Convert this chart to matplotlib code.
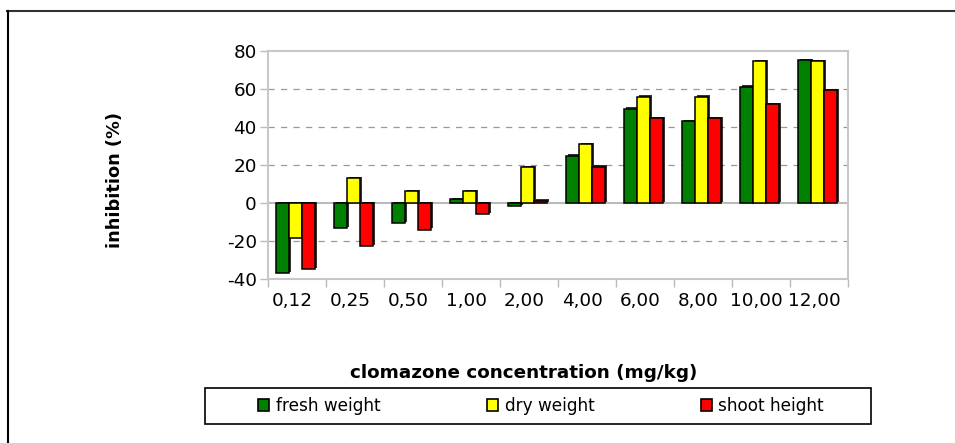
import matplotlib
matplotlib.use("Agg")
import matplotlib.pyplot as plt
import matplotlib.patheffects as pe
from matplotlib.lines import Line2D
from matplotlib.patches import Patch, Rectangle
import numpy as np

plt.rcParams["font.family"] = ["DejaVu Sans"]
plt.rcParams["axes.unicode_minus"] = False

# data
concentrations = ["0,12", "0,25", "0,50", "1,00", "2,00", "4,00", "6,00", "8,00", "10,00", "12,00"]
fresh_weight = [-37.0, -13.2, -10.7, 1.9, -1.8, 24.9, 49.6, 43.2, 61.2, 75.3]
dry_weight = [-18.6, 13.0, 6.1, 6.1, 18.8, 30.9, 56.0, 56.0, 74.6, 74.6]
shoot_height = [-34.9, -22.8, -14.0, -6.0, 1.2, 19.1, 44.7, 44.6, 51.9, 59.3]

series = [("fresh weight", fresh_weight, "#008000"),
          ("dry weight", dry_weight, "#ffff00"),
          ("shoot height", shoot_height, "#ff0000")]

W, H = 955, 443
fig = plt.figure(figsize=(W / 100, H / 100), dpi=100)
ax = fig.add_axes([268 / W, 1 - 279 / H, 580 / W, 228 / H])

x = np.arange(len(concentrations))
width = 0.225
# thin dark edge on the right/top, like the old 3D-ish office chart
shadow = [pe.SimplePatchShadow(offset=(1.0, 1.0), shadow_rgbFace="black", alpha=0.8),
          pe.Normal()]
for i, (name, vals, col) in enumerate(series):
    bars = ax.bar(x + 0.48 + (i - 1) * width, vals, width, color=col,
                  edgecolor="black", linewidth=1.1, zorder=3)
    for b in bars:
        b.set_path_effects(shadow)

# gridlines
for y in [-20, 20, 40, 60]:
    ax.axhline(y, color="#999999", linestyle=(0, (5, 5)), linewidth=0.9, zorder=1)
ax.axhline(0, color="#bbbbbb", linewidth=1.5, zorder=2)

ax.set_xlim(0, len(concentrations))
ax.set_ylim(-40, 80)
ax.set_yticks(range(-40, 81, 20))
ax.set_xticks(np.arange(0, len(concentrations) + 1))
ax.set_xticklabels([])
ax.set_xticks(x + 0.42, minor=True)
ax.set_xticklabels(concentrations, minor=True)
ax.tick_params(axis="x", which="minor", length=0, pad=9, labelsize=13.2)
ax.tick_params(axis="x", which="major", length=6, color="#bbbbbb", width=1)
ax.tick_params(axis="y", length=6, color="#bbbbbb", width=1, labelsize=13.2, pad=2)

for s in ax.spines.values():
    s.set_color("#c8c8c8")
    s.set_linewidth(1.5)

fig.text(115 / W, 1 - 180 / H, "inhibition (%)", rotation=90, ha="center", va="center",
         fontsize=12.8, fontweight="bold")
fig.text(524 / W, 1 - 373 / H, "clomazone concentration (mg/kg)", ha="center", va="center",
         fontsize=13.2, fontweight="bold")

# legend: box drawn separately, entries spread across it
fig.add_artist(Rectangle((205 / W, 1 - 424 / H), 666 / W, 36 / H, transform=fig.transFigure,
                         facecolor="white", edgecolor="black", linewidth=1.2))
handles = [Patch(facecolor=c, edgecolor="black", linewidth=1.2) for _, _, c in series]
leg = fig.legend(handles, [n for n, _, _ in series], ncol=3, mode="expand",
                 bbox_to_anchor=(258 / W, 1 - 424 / H, 566 / W, 36 / H),
                 loc="center", frameon=False, fontsize=12.2,
                 handlelength=0.65, handleheight=0.65, handletextpad=0.4,
                 borderaxespad=0, borderpad=0)

# outer frame (top and left only visible)
fig.add_artist(Line2D([7 / W, 1], [1 - 10.5 / H, 1 - 10.5 / H], color="#333333", linewidth=1.5))
fig.add_artist(Line2D([7.5 / W, 7.5 / W], [0, 1 - 10.5 / H], color="black", linewidth=1.5))

fig.savefig("out.png", dpi=100)
